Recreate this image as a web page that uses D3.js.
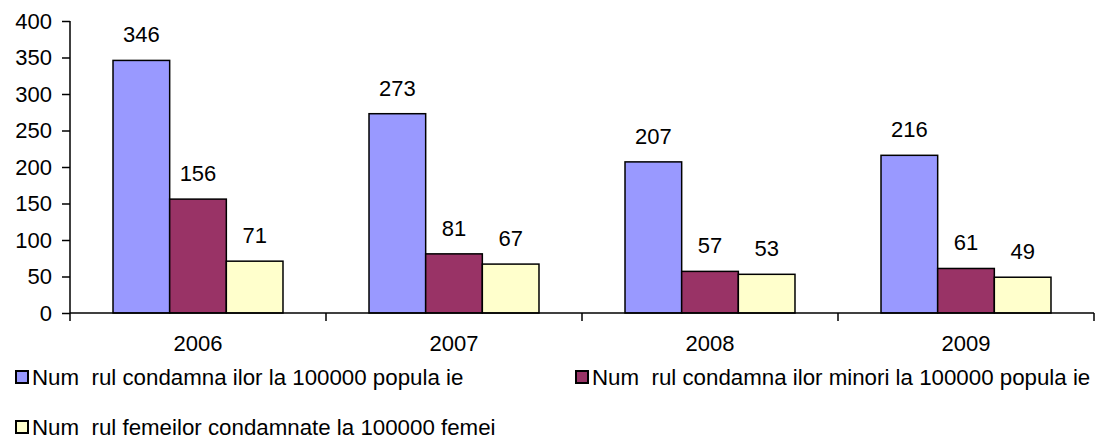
<!DOCTYPE html>
<html>
<head>
<meta charset="utf-8">
<script src="https://cdn.jsdelivr.net/npm/d3@7"></script>
<style>
  body { margin: 0; background: #fff; }
  text { font-family: Arial, "Liberation Sans", sans-serif; fill: #000; }
</style>
</head>
<body>
<div id="chart"></div>
<script>
// data
var years = ["2006", "2007", "2008", "2009"];
var seriesNames = [
    "Num  rul condamna ilor la 100000 popula ie",
    "Num  rul condamna ilor minori la 100000 popula ie",
    "Num  rul femeilor condamnate la 100000 femei"
];
var convicted = [346, 273, 207, 216];
var minors = [156, 81, 57, 61];
var women = [71, 67, 53, 49];
var yTicks = [0, 50, 100, 150, 200, 250, 300, 350, 400];
var colours = ["#9999FF", "#993366", "#FFFFCC"];

var seriesValues = [convicted, minors, women];

var svgWidth = 1098, svgHeight = 439;
var margin = { left: 70, right: 4, top: 21, bottom: 126 };
var width = svgWidth - margin.left - margin.right;
var height = svgHeight - margin.top - margin.bottom;
var fontSize = "22px";

var svg = d3.select("#chart").append("svg")
    .attr("width", svgWidth)
    .attr("height", svgHeight);

var g = svg.append("g")
    .attr("transform", "translate(" + margin.left + "," + margin.top + ")");

// scales
var x0 = d3.scaleBand()
    .domain(years)
    .range([0, width])
    .paddingInner(0.336)
    .paddingOuter(0.168);

var x1 = d3.scaleBand()
    .domain(d3.range(seriesNames.length))
    .range([0, x0.bandwidth()]);

var y = d3.scaleLinear()
    .domain([0, 400])
    .range([height, 0]);

// bars
var groups = g.selectAll(".year")
    .data(years)
    .enter().append("g")
    .attr("class", "year")
    .attr("transform", function(d) { return "translate(" + x0(d) + ",0)"; });

groups.each(function(yr, i) {
    var rows = seriesValues.map(function(vals, s) { return { s: s, v: vals[i] }; });
    var grp = d3.select(this);

    grp.selectAll("rect")
        .data(rows)
        .enter().append("rect")
        .attr("x", function(d) { return x1(d.s); })
        .attr("y", function(d) { return y(d.v); })
        .attr("width", x1.bandwidth())
        .attr("height", function(d) { return height - y(d.v); })
        .attr("fill", function(d) { return colours[d.s]; })
        .attr("stroke", "#000")
        .attr("stroke-width", 1.5);

    grp.selectAll("text")
        .data(rows)
        .enter().append("text")
        .attr("x", function(d) { return x1(d.s) + x1.bandwidth() / 2; })
        .attr("y", function(d) { return y(d.v) - 18; })
        .attr("text-anchor", "middle")
        .style("font-size", fontSize)
        .text(function(d) { return d.v; });
});

// y axis
var yAxis = d3.axisLeft(y).tickValues(yTicks).tickSize(8).tickPadding(10);
var yG = g.append("g").call(yAxis);
yG.selectAll("text").style("font-size", fontSize).attr("fill", "#000");
yG.selectAll("line, path").attr("stroke", "#000").attr("stroke-width", 1.5);
yG.select(".domain").attr("d", "M0," + height + "V0");

// x axis - tick marks sit on the category boundaries
var xAxis = d3.axisBottom(x0).tickSize(0).tickPadding(22);
var xG = g.append("g").attr("transform", "translate(0," + height + ")").call(xAxis);
xG.selectAll("text").style("font-size", fontSize).attr("fill", "#000");
xG.select(".domain").attr("stroke", "#000").attr("stroke-width", 1.5)
    .attr("d", "M0,0H" + width);

var bounds = d3.range(years.length + 1).map(function(i) { return i * x0.step(); });
xG.selectAll(".bound")
    .data(bounds)
    .enter().append("line")
    .attr("class", "bound")
    .attr("x1", function(d) { return d; })
    .attr("x2", function(d) { return d; })
    .attr("y1", 0)
    .attr("y2", 8)
    .attr("stroke", "#000")
    .attr("stroke-width", 1.5);

// legend
var legendPos = [[16, 385], [576, 385], [16, 435]];
var legend = svg.selectAll(".legend")
    .data(seriesNames)
    .enter().append("g")
    .attr("class", "legend")
    .attr("transform", function(d, i) { return "translate(" + legendPos[i][0] + "," + legendPos[i][1] + ")"; });

legend.append("rect")
    .attr("x", 0)
    .attr("y", -14)
    .attr("width", 12)
    .attr("height", 12)
    .attr("fill", function(d, i) { return colours[i]; })
    .attr("stroke", "#000")
    .attr("stroke-width", 2);

legend.append("text")
    .attr("x", 16)
    .attr("y", 0)
    .style("font-size", "22.3px")
    .style("white-space", "pre")
    .attr("xml:space", "preserve")
    .text(function(d) { return d; });
</script>
</body>
</html>
